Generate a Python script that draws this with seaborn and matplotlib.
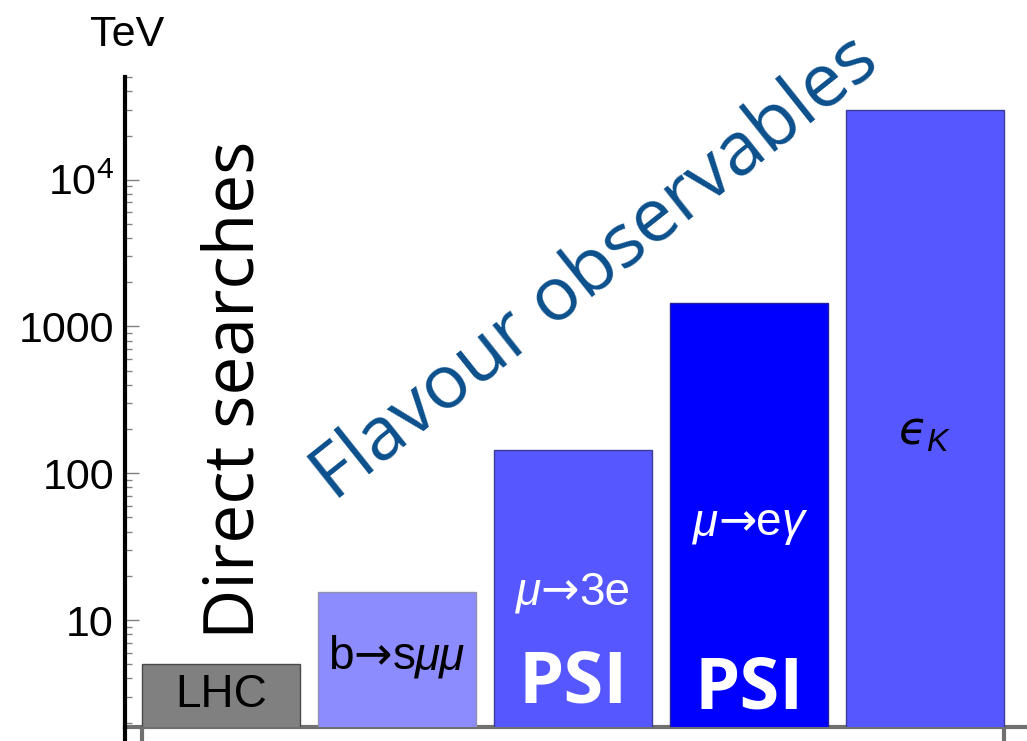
import matplotlib
matplotlib.use("Agg")
import matplotlib.pyplot as plt
from matplotlib.offsetbox import TextArea, HPacker, AnnotationBbox
import seaborn as sns


# DATA

experiments = ["LHC", "b→sμμ", "μ→3e", "μ→eγ", "εK"]
scale_tev = [5.0, 15.5, 145, 1450, 30000]

bar_colors = ["#808080", "#8c8cff", "#5757ff", "#0000ff", "#5757ff"]
edge_colors = ["#4a4a4a", "#9090b0", "#3c3c96", "#22229a", "#3c3c96"]

# label pieces: (text, style)  style: "" upright, "it" italic, "arrow"
bar_labels = [
    [("LHC", "")],
    [("b", ""), ("→", "arrow"), ("s", ""), ("μμ", "it")],
    [("μ", "it"), ("→", "arrow"), ("3e", "")],
    [("μ", "it"), ("→", "arrow"), ("e", ""), ("γ", "it")],
    [(r"$\mathcal{ϵ}_K$", "")],
]
label_heights = [3.1, 5.6, 15.5, 46, 190]
label_colors = ["black", "black", "white", "white", "black"]

psi_bars = [2, 3]
psi_heights = [3.7, 3.35]

ytick_values = [10, 100, 1000, 10000]
ytick_labels = ["10", "100", "1000", r"$10^4$"]


# STYLE

sns.set_style("ticks")
plt.rcParams["font.family"] = ["Liberation Sans", "DejaVu Sans"]
plt.rcParams["text.color"] = "black"
plt.rcParams["ytick.labelcolor"] = "black"
plt.rcParams["mathtext.fontset"] = "custom"
plt.rcParams["mathtext.rm"] = "Liberation Sans"
plt.rcParams["mathtext.it"] = "Liberation Sans:italic"
plt.rcParams["mathtext.bf"] = "Liberation Sans:bold"
plt.rcParams["mathtext.cal"] = "DejaVu Sans:italic"


# FIGURE

fig = plt.figure(figsize=(10.27, 7.41), dpi=100)
ax = fig.add_axes([125 / 1027, 14 / 741, 902 / 1027, 650 / 741])

sns.barplot(
    x=experiments,
    y=scale_tev,
    hue=experiments,
    palette=bar_colors,
    saturation=1,
    width=0.9,
    legend=False,
    ax=ax
)

for patch, ec in zip(ax.patches, edge_colors):
    patch.set_edgecolor(ec)
    patch.set_linewidth(1)

ax.set_yscale("log")
ax.set_ylim(10 ** 0.271, 10 ** 4.70)
ax.set_xlim(-0.545, 4.58)

# axes look
for side in ["top", "right"]:
    ax.spines[side].set_visible(False)
ax.spines["left"].set_color("black")
ax.spines["left"].set_linewidth(3)
ax.spines["bottom"].set_color("#707070")
ax.spines["bottom"].set_linewidth(3)
ax.spines["bottom"].set_zorder(0.5)

# y axis runs a bit below the x axis
ax.plot([0, 0], [-0.03, 0], transform=ax.transAxes, color="black",
        lw=3, clip_on=False, solid_capstyle="butt")

ax.set_yticks(ytick_values, labels=ytick_labels)
ax.tick_params(axis="y", which="major", direction="in", length=10,
               width=1, color="#808080", labelsize=31, pad=8,
               labelcolor="black")
ax.tick_params(axis="y", which="minor", direction="in", length=5,
               width=1, color="#808080")

ax.set_xticks([-0.45, 4.45], labels=["", ""])
ax.tick_params(axis="x", direction="out", length=12, width=3,
               color="#707070")
ax.set_xlabel("")
ax.set_ylabel("")


# BAR LABELS

def piece_label(x, y, pieces, color, size):
    areas = []
    for txt, style in pieces:
        props = dict(color=color, fontsize=size)
        if style == "it":
            props["fontstyle"] = "italic"
        if style == "arrow":
            props["family"] = "DejaVu Sans"
        areas.append(TextArea(txt, textprops=props))
    box = HPacker(children=areas, align="baseline", pad=0, sep=0)
    ab = AnnotationBbox(box, (x, y), frameon=False,
                        box_alignment=(0.5, 0.5), pad=0)
    ax.add_artist(ab)


for i, (parts, h, c) in enumerate(zip(bar_labels, label_heights, label_colors)):
    piece_label(i, h, parts, c, 33)

for i, h in zip(psi_bars, psi_heights):
    ax.text(i, h, "PSI", ha="center", va="center", color="white",
            fontsize=52, fontweight="bold", family="Open Sans")


# ANNOTATIONS

ax.text(0.08, 370, "Direct searches", rotation=90, ha="center",
        va="center", fontsize=50, family="Open Sans", color="black")

ax.text(2.13, 2430, "Flavour observables", rotation=38.5,
        rotation_mode="anchor", ha="center", va="center",
        fontsize=54, family="Open Sans", color="#0b4f8c")

fig.text(127 / 1027, 1 - 35 / 741, "TeV", ha="center", va="center",
         fontsize=31)

fig.savefig("out.png", dpi=100)
